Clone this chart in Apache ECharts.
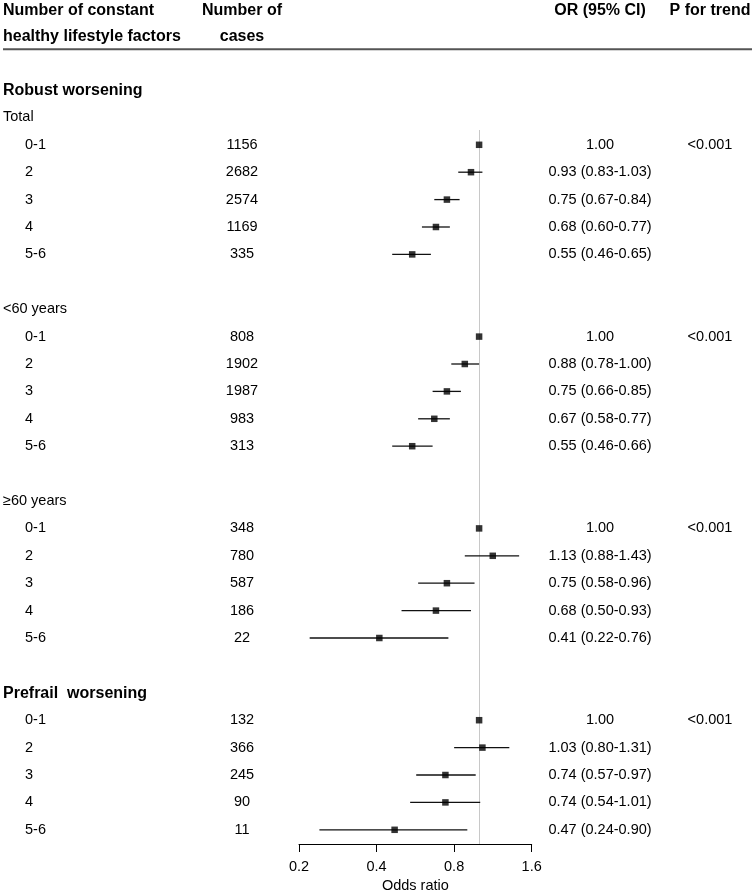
<!DOCTYPE html>
<html><head><meta charset="utf-8">
<script src="https://cdn.jsdelivr.net/npm/echarts@6/dist/echarts.min.js"></script>
<style>html,body{margin:0;padding:0;background:#fff}#c{width:755px;height:892px}</style>
</head><body><div id="c"></div>
<script>
// ---- data ----
const levels = ['0-1', '2', '3', '4', '5-6'];

const totalCases = [1156, 2682, 2574, 1169, 335];
const totalOR    = [1.00, 0.93, 0.75, 0.68, 0.55];
const totalLow   = [null, 0.83, 0.67, 0.60, 0.46];
const totalHigh  = [null, 1.03, 0.84, 0.77, 0.65];

const under60Cases = [808, 1902, 1987, 983, 313];
const under60OR    = [1.00, 0.88, 0.75, 0.67, 0.55];
const under60Low   = [null, 0.78, 0.66, 0.58, 0.46];
const under60High  = [null, 1.00, 0.85, 0.77, 0.66];

const over60Cases = [348, 780, 587, 186, 22];
const over60OR    = [1.00, 1.13, 0.75, 0.68, 0.41];
const over60Low   = [null, 0.88, 0.58, 0.50, 0.22];
const over60High  = [null, 1.43, 0.96, 0.93, 0.76];

const prefrailCases = [132, 366, 245, 90, 11];
const prefrailOR    = [1.00, 1.03, 0.74, 0.74, 0.47];
const prefrailLow   = [null, 0.80, 0.57, 0.54, 0.24];
const prefrailHigh  = [null, 1.31, 0.97, 1.01, 0.90];

const pTrend = ['<0.001', '<0.001', '<0.001', '<0.001'];
const tickValues = [0.2, 0.4, 0.8, 1.6];
const refOR = 1.0;

const headers = {
  col1: ['Number of constant', 'healthy lifestyle factors'],
  col2: ['Number of', 'cases'],
  col3: 'OR (95% CI)',
  col4: 'P for trend'
};
const sectionTitles = ['Robust worsening', 'Prefrail  worsening'];
const groupLabels = ['Total', '<60 years', '≥60 years'];

// ---- layout (row indices) ----
const groups = [
  { label: groupLabels[0], labelRow: 1, start: 2, cases: totalCases, or: totalOR, lo: totalLow, hi: totalHigh, p: pTrend[0] },
  { label: groupLabels[1], labelRow: 8, start: 9, cases: under60Cases, or: under60OR, lo: under60Low, hi: under60High, p: pTrend[1] },
  { label: groupLabels[2], labelRow: 15, start: 16, cases: over60Cases, or: over60OR, lo: over60Low, hi: over60High, p: pTrend[2] },
  { label: null, labelRow: null, start: 23, cases: prefrailCases, or: prefrailOR, lo: prefrailLow, hi: prefrailHigh, p: pTrend[3] }
];
const sections = [{ title: sectionTitles[0], row: 0 }, { title: sectionTitles[1], row: 22 }];

const base = tickValues[0];
const toX = v => Math.log2(v / base);

const barData = [], pointData = [];
groups.forEach(g => {
  g.or.forEach((v, i) => {
    const r = g.start + i;
    pointData.push([toX(v), r]);
    if (g.lo[i] != null) barData.push([toX(g.lo[i]), toX(g.hi[i]), r]);
  });
});

const FONT = "'Liberation Sans', Arial, sans-serif";
const chart = echarts.init(document.getElementById('c'), null, { renderer: 'canvas' });

chart.setOption({
  animation: false,
  backgroundColor: '#fff',
  grid: { left: 299, width: 232.7, top: 130, height: 714, containLabel: false, outerBoundsMode: 'none' },
  xAxis: {
    type: 'value', min: toX(tickValues[0]), max: toX(tickValues[tickValues.length - 1]), interval: 1,
    splitLine: { show: false },
    axisLine: { show: true, onZero: false, lineStyle: { color: '#000', width: 1 } },
    axisTick: { show: true, length: 8, lineStyle: { color: '#000' } },
    axisLabel: { color: '#000', fontSize: 14.5, fontFamily: FONT, margin: 15,
      formatter: v => (base * Math.pow(2, v)).toFixed(1) },
    name: 'Odds ratio', nameLocation: 'middle', nameGap: 26,
    nameTextStyle: { color: '#000', fontSize: 14.5, fontFamily: FONT }
  },
  yAxis: {
    type: 'value', inverse: true, min: 1.46, max: 27.518, show: false
  },
  series: [
    {
      type: 'custom', silent: true, z: 3,
      encode: { x: [0, 1], y: 2 },
      data: barData,
      renderItem: (params, api) => {
        const y = api.value(2);
        const p1 = api.coord([api.value(0), y]);
        const p2 = api.coord([api.value(1), y]);
        return { type: 'line', shape: { x1: p1[0], y1: p1[1], x2: p2[0], y2: p2[1] },
          style: { stroke: '#111', lineWidth: 1.3 } };
      }
    },
    {
      type: 'scatter', silent: true, z: 4,
      symbol: 'rect', symbolSize: 6.5,
      itemStyle: { color: '#000' },
      data: pointData,
      markLine: {
        silent: true, symbol: 'none', z: 1,
        label: { show: false },
        lineStyle: { color: '#c8c8c8', width: 1, type: 'solid' },
        data: [{ xAxis: toX(refOR) }]
      }
    }
  ]
});

const rowY = r => chart.convertToPixel({ yAxisIndex: 0 }, r);
const g = [];
const txt = (x, y, s, opts) => g.push({
  type: 'text', x, y, silent: true,
  style: Object.assign({ text: s, fill: '#000', font: '14.5px ' + FONT, textAlign: 'left', textVerticalAlign: 'middle' }, opts || {})
});
const BOLD = 'bold 16px ' + FONT;

// header
txt(3, 11, headers.col1[0], { font: BOLD });
txt(3, 37, headers.col1[1], { font: BOLD });
txt(242, 11, headers.col2[0], { font: BOLD, textAlign: 'center' });
txt(242, 37, headers.col2[1], { font: BOLD, textAlign: 'center' });
txt(600, 11, headers.col3, { font: BOLD, textAlign: 'center' });
txt(710, 11, headers.col4, { font: BOLD, textAlign: 'center' });
g.push({ type: 'line', silent: true, shape: { x1: 3, y1: 49.3, x2: 752, y2: 49.3 }, style: { stroke: '#555', lineWidth: 2 } });

sections.forEach(s => txt(3, rowY(s.row) + 1, s.title, { font: BOLD }));
groups.forEach(gr => {
  if (gr.label) txt(3, rowY(gr.labelRow), gr.label);
  levels.forEach((lv, i) => {
    const y = rowY(gr.start + i);
    txt(25, y, lv);
    txt(242, y, String(gr.cases[i]), { textAlign: 'center' });
    const s = gr.lo[i] == null ? gr.or[i].toFixed(2)
      : gr.or[i].toFixed(2) + ' (' + gr.lo[i].toFixed(2) + '-' + gr.hi[i].toFixed(2) + ')';
    txt(600, y, s, { textAlign: 'center' });
    if (i === 0) txt(710, y, gr.p, { textAlign: 'center' });
  });
});

chart.setOption({ graphic: g });
</script>
</body></html>
